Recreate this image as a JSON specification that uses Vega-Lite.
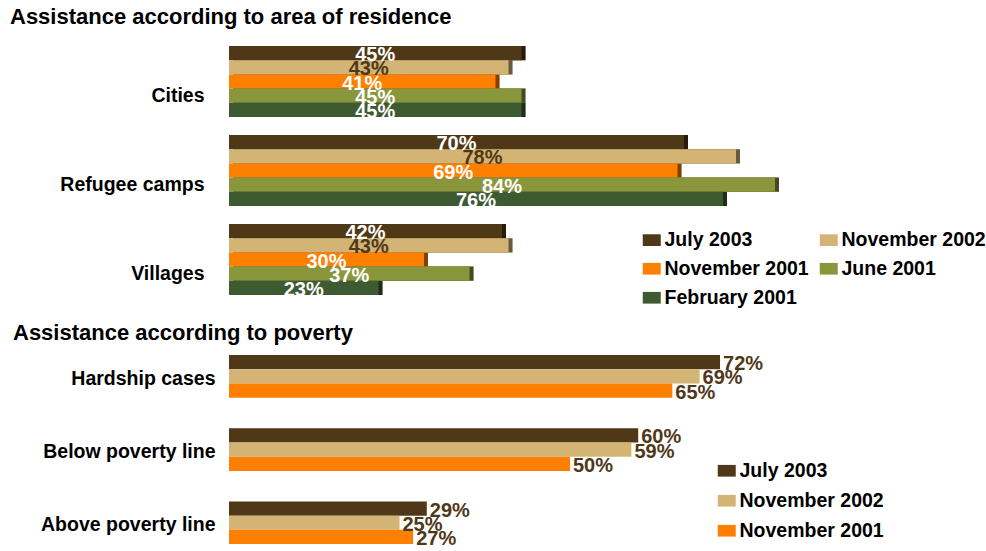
{
  "$schema": "https://vega.github.io/schema/vega-lite/v6.json",
  "padding": {"left": 10, "top": 6, "right": 0, "bottom": 0},
  "background": "white",
  "spacing": 14,
  "config": {
    "font": "Liberation Sans",
    "view": {"stroke": null},
    "axisY": {"title": null, "ticks": false, "domain": false, "grid": false, "labelFontSize": 19.5, "labelFontWeight": "bold", "labelColor": "#000000"},
    "legend": {"title": null, "labelFontSize": 19.5, "labelFontWeight": "bold", "labelColor": "#000000", "symbolType": "M-1,-0.65H1V0.65H-1Z", "symbolSize": 324, "symbolStrokeWidth": 0, "labelOffset": 3}
  },
  "vconcat": [
    {
      "title": {"text": "Assistance according to area of residence", "anchor": "start", "frame": "group", "dx": -219, "fontSize": 22, "fontWeight": "bold", "color": "#000000", "offset": 8},
      "width": 650,
      "height": 267,
      "data": {"values": [
        {"area": "Cities", "period": "July 2003", "pct": 45},
        {"area": "Cities", "period": "November 2002", "pct": 43},
        {"area": "Cities", "period": "November 2001", "pct": 41},
        {"area": "Cities", "period": "June 2001", "pct": 45},
        {"area": "Cities", "period": "February 2001", "pct": 45},
        {"area": "Refugee camps", "period": "July 2003", "pct": 70},
        {"area": "Refugee camps", "period": "November 2002", "pct": 78},
        {"area": "Refugee camps", "period": "November 2001", "pct": 69},
        {"area": "Refugee camps", "period": "June 2001", "pct": 84},
        {"area": "Refugee camps", "period": "February 2001", "pct": 76},
        {"area": "Villages", "period": "July 2003", "pct": 42},
        {"area": "Villages", "period": "November 2002", "pct": 43},
        {"area": "Villages", "period": "November 2001", "pct": 30},
        {"area": "Villages", "period": "June 2001", "pct": 37},
        {"area": "Villages", "period": "February 2001", "pct": 23}
      ]},
      "encoding": {
        "y": {"field": "area", "type": "nominal", "sort": ["Cities", "Refugee camps", "Villages"], "scale": {"paddingInner": 0.2, "paddingOuter": 0.1}, "axis": {"labelPadding": 25, "labelOffset": 14}},
        "yOffset": {"field": "period", "type": "nominal", "sort": ["July 2003", "November 2002", "November 2001", "June 2001", "February 2001"], "scale": {"paddingInner": 0, "paddingOuter": 0}},
        "color": {"field": "period", "type": "nominal", "sort": ["July 2003", "November 2002", "November 2001", "June 2001", "February 2001"],
          "scale": {"domain": ["July 2003", "November 2002", "November 2001", "June 2001", "February 2001"], "range": ["#4F3817", "#D4B475", "#FF8000", "#8A963C", "#3D5A31"]},
          "legend": {"orient": "none", "legendX": 413, "legendY": 193, "columns": 2, "direction": "horizontal", "rowPadding": 8, "columnPadding": 10}}
      },
      "layer": [
        {"mark": {"type": "bar", "xOffset": 4, "yOffset": -3}, "encoding": {"x": {"field": "pct", "type": "quantitative", "scale": {"domain": [0, 100]}, "axis": null}}},
        {"mark": {"type": "bar", "xOffset": 4, "yOffset": -3, "opacity": 0.5}, "encoding": {"x": {"field": "pct", "type": "quantitative", "scale": {"domain": [0, 100]}, "axis": null}, "color": {"value": "#000000"}}},
        {"mark": {"type": "bar"}, "encoding": {"x": {"field": "pct", "type": "quantitative", "scale": {"domain": [0, 100]}, "axis": null}}},
        {"transform": [{"calculate": "datum.pct / 2", "as": "mid"}, {"calculate": "datum.pct + '%'", "as": "label"}],
         "mark": {"type": "text", "fontSize": 20, "fontWeight": "bold", "align": "center", "baseline": "middle", "dy": 2},
         "encoding": {"x": {"field": "mid", "type": "quantitative", "scale": {"domain": [0, 100]}, "axis": null}, "text": {"field": "label"},
           "color": {"condition": {"test": "datum.period === 'November 2002'", "value": "#4F3817"}, "value": "#FFFFFF"}}}
      ]
    },
    {
      "title": {"text": "Assistance according to poverty", "anchor": "start", "frame": "group", "dx": -216, "fontSize": 22, "fontWeight": "bold", "color": "#000000", "offset": 2},
      "width": 682,
      "height": 210,
      "data": {"values": [
        {"group": "Hardship cases", "period": "July 2003", "pct": 72},
        {"group": "Hardship cases", "period": "November 2002", "pct": 69},
        {"group": "Hardship cases", "period": "November 2001", "pct": 65},
        {"group": "Below poverty line", "period": "July 2003", "pct": 60},
        {"group": "Below poverty line", "period": "November 2002", "pct": 59},
        {"group": "Below poverty line", "period": "November 2001", "pct": 50},
        {"group": "Above poverty line", "period": "July 2003", "pct": 29},
        {"group": "Above poverty line", "period": "November 2002", "pct": 25},
        {"group": "Above poverty line", "period": "November 2001", "pct": 27}
      ]},
      "encoding": {
        "y": {"field": "group", "type": "nominal", "sort": ["Hardship cases", "Below poverty line", "Above poverty line"], "scale": {"paddingInner": 0.35, "paddingOuter": 0.11}, "axis": {"labelPadding": 14}},
        "yOffset": {"field": "period", "type": "nominal", "sort": ["July 2003", "November 2002", "November 2001"], "scale": {"paddingInner": 0, "paddingOuter": 0}},
        "x": {"field": "pct", "type": "quantitative", "scale": {"domain": [0, 100]}, "axis": null}
      },
      "layer": [
        {"mark": {"type": "bar"}, "encoding": {"color": {"field": "period", "type": "nominal", "sort": ["July 2003", "November 2002", "November 2001"],
          "scale": {"domain": ["July 2003", "November 2002", "November 2001"], "range": ["#4F3817", "#D4B475", "#FF8000"]},
          "legend": {"orient": "none", "legendX": 488, "legendY": 114, "columns": 1, "rowPadding": 9}}}},
        {"transform": [{"calculate": "datum.pct + '%'", "as": "label"}],
         "mark": {"type": "text", "fontSize": 20, "fontWeight": "bold", "align": "left", "baseline": "middle", "dx": 3, "dy": 2, "color": "#4F3817"},
         "encoding": {"text": {"field": "label"}}}
      ],
      "resolve": {"scale": {"color": "independent"}}
    }
  ],
  "resolve": {"scale": {"color": "independent"}}
}
